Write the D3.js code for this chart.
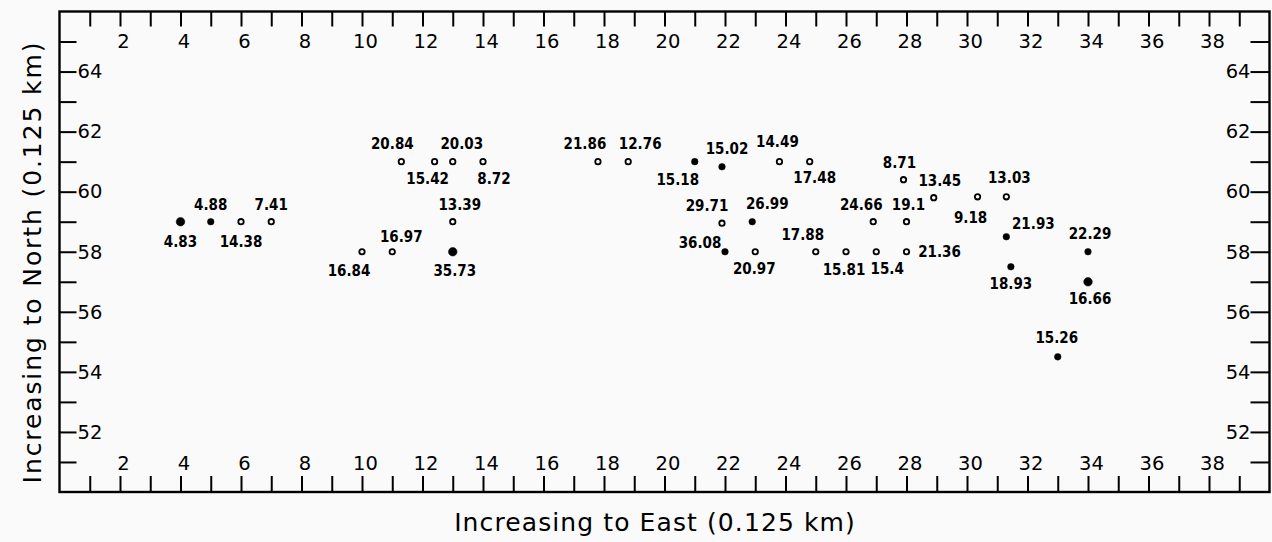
<!DOCTYPE html>
<html>
<head>
<meta charset="utf-8">
<script src="https://cdn.jsdelivr.net/npm/d3@7"></script>
<style>
  html, body { margin: 0; padding: 0; background: #fafafa; }
  svg { display: block; }
  .tick text { font-family: "DejaVu Sans", sans-serif; font-size: 19.5px; fill: #000; }
  .ptlabel { font-family: "DejaVu Sans Condensed", "DejaVu Sans", sans-serif; font-weight: bold; font-size: 15px; fill: #000; }
  .title { font-family: "DejaVu Sans", sans-serif; font-size: 25px; fill: #000; letter-spacing: 1.1px; }
  .ytitle { letter-spacing: 1.9px; }
</style>
</head>
<body>
<script>
// ---- data ----
const east  = [4, 5, 6, 7, 10, 11, 13, 13, 11.3, 12.4, 13, 14, 17.8, 18.8, 21, 21.9, 23.8, 24.8,
               21.9, 22.9, 22, 23, 25, 26, 27, 28, 26.9, 28, 27.9, 28.9, 30.35, 31.3, 31.3, 31.45, 34, 34, 33];
const north = [59, 59, 59, 59, 58, 58, 58, 59, 61, 61, 61, 61, 61, 61, 61, 60.83, 61, 61,
               58.95, 59, 58, 58, 58, 58, 58, 58, 59, 59, 60.4, 59.8, 59.83, 59.83, 58.5, 57.5, 58, 57, 54.5];
const values = ["4.83", "4.88", "14.38", "7.41", "16.84", "16.97", "35.73", "13.39", "20.84", "15.42", "20.03", "8.72",
                "21.86", "12.76", "15.18", "15.02", "14.49", "17.48", "29.71", "26.99", "36.08", "20.97", "17.88", "15.81",
                "15.4", "21.36", "24.66", "19.1", "8.71", "13.45", "9.18", "13.03", "21.93", "18.93", "22.29", "16.66", "15.26"];
const markerKind = ["big", "filled", "ring", "ring", "ring", "ring", "big", "ring", "ring", "ring", "ring", "ring",
                    "ring", "ring", "filled", "filled", "ring", "ring", "ring", "filled", "filled", "ring", "ring", "ring",
                    "ring", "ring", "ring", "ring", "ring", "ring", "ring", "ring", "filled", "filled", "filled", "big", "filled"];
const xTickValues = d3.range(1, 40);
const yTickValues = d3.range(51, 66);
const xTitle = "Increasing to East (0.125 km)";
const yTitle = "Increasing to North (0.125 km)";

// ---- layout (label placement relative to each point, px) ----
const labelOffsets = [[0,20],[0,-17],[0,20],[0,-17],[-13,19],[9,-15],[2,19],[7,-17],[-9,-18],[-7,17],[9,-18],[11,17],
                      [-13,-18],[12,-18],[-17,18],[5,-18],[-2,-20],[5,16],[-15,-17],[15,-18],[-25,-9],[-1,17],[-13,-17],[-2,18],
                      [11,17],[33,0],[-12,-17],[2,-17],[-4,-17],[6,-17],[-7,21],[3,-19],[27,-13],[0,17],[2,-18],[2,17],[-1,-19]];

const W = 1272, H = 542;
const svg = d3.select("body").append("svg").attr("width", W).attr("height", H);

const x = d3.scaleLinear().domain([0, 40]).range([59.5, 1269.5]);
const y = d3.scaleLinear().domain([50, 66]).range([492, 11.5]);

const evenFmt = d => (d % 2 === 0 ? String(d) : "");

function styleAxis(g) {
  g.select(".domain").remove();
  g.selectAll(".tick line").attr("stroke", "#000").attr("stroke-width", 2);
}

// top axis: ticks pointing down, labels below
svg.append("g").attr("transform", `translate(0,${y(66)})`)
  .call(d3.axisBottom(x).tickValues(xTickValues).tickFormat(evenFmt).tickSize(15).tickPadding(8))
  .call(styleAxis)
  .selectAll(".tick text").attr("dx", 3);

// bottom axis: ticks pointing up, labels above
svg.append("g").attr("transform", `translate(0,${y(50)})`)
  .call(d3.axisTop(x).tickValues(xTickValues).tickFormat(evenFmt).tickSize(16).tickPadding(6))
  .call(styleAxis)
  .selectAll(".tick text").attr("dx", 3);

// left axis: ticks pointing right, labels to their right
svg.append("g").attr("transform", `translate(${x(0)},0)`)
  .call(d3.axisRight(y).tickValues(yTickValues).tickFormat(evenFmt).tickSize(17).tickPadding(1))
  .call(styleAxis);

// right axis: ticks pointing left, labels to their left
svg.append("g").attr("transform", `translate(${x(40)},0)`)
  .call(d3.axisLeft(y).tickValues(yTickValues).tickFormat(evenFmt).tickSize(19).tickPadding(0))
  .call(styleAxis);

// frame
svg.append("rect")
  .attr("x", x(0)).attr("y", y(66))
  .attr("width", x(40) - x(0)).attr("height", y(50) - y(66))
  .attr("fill", "none").attr("stroke", "#000").attr("stroke-width", 2.4);

// points
const pts = east.map((e, i) => ({ e, n: north[i], v: values[i], k: markerKind[i], o: labelOffsets[i] }));

const g = svg.append("g");
g.selectAll("circle.pt").data(pts).join("circle")
  .attr("class", "pt")
  .attr("cx", d => x(d.e)).attr("cy", d => y(d.n))
  .attr("r", d => d.k === "big" ? 4.3 : d.k === "filled" ? 3.3 : 2.7)
  .attr("fill", d => d.k === "ring" ? "#fafafa" : "#000")
  .attr("stroke", "#000")
  .attr("stroke-width", d => d.k === "ring" ? 1.8 : 0.5);

g.selectAll("text.ptlabel").data(pts).join("text")
  .attr("class", "ptlabel")
  .attr("x", d => x(d.e) + d.o[0])
  .attr("y", d => y(d.n) + d.o[1])
  .attr("text-anchor", "middle")
  .attr("dominant-baseline", "central")
  .text(d => d.v);

// axis titles
svg.append("text").attr("class", "title")
  .attr("x", 655).attr("y", 531)
  .attr("text-anchor", "middle")
  .text(xTitle);

svg.append("text").attr("class", "title ytitle")
  .attr("transform", `translate(41,262) rotate(-90)`)
  .attr("text-anchor", "middle")
  .text(yTitle);
</script>
</body>
</html>
